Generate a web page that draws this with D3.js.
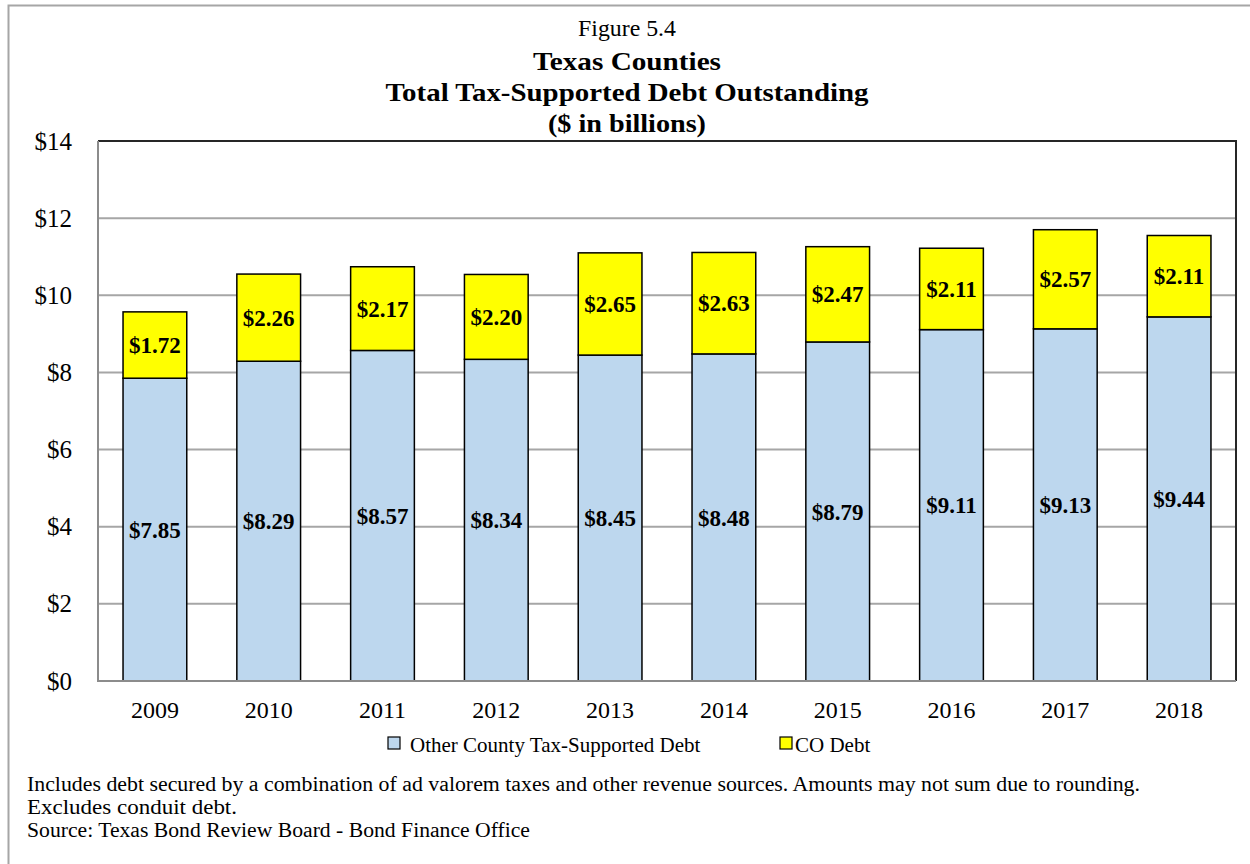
<!DOCTYPE html>
<html>
<head>
<meta charset="utf-8">
<script src="https://cdn.jsdelivr.net/npm/d3@7"></script>
<style>
  html, body { margin: 0; padding: 0; background: #fff; }
  svg, svg text { font-family: "Liberation Serif", "DejaVu Serif", serif; }
  svg { display: block; }
</style>
</head>
<body>
<svg id="chart" width="1250" height="864"></svg>
<script>
// Fiscal years shown on the x axis
const years = ["2009", "2010", "2011", "2012", "2013", "2014", "2015", "2016", "2017", "2018"];
// Other county tax-supported debt ($ billions)
const otherDebt = [7.85, 8.29, 8.57, 8.34, 8.45, 8.48, 8.79, 9.11, 9.13, 9.44];
// Certificates of obligation debt ($ billions)
const coDebt = [1.72, 2.26, 2.17, 2.20, 2.65, 2.63, 2.47, 2.11, 2.57, 2.11];
// Y axis ticks
const yTicks = [0, 2, 4, 6, 8, 10, 12, 14];
const seriesNames = ["Other County Tax-Supported Debt", "CO Debt"];
const seriesColors = ["#BDD7EE", "#FFFF00"];
const titleLines = ["Figure 5.4", "Texas Counties", "Total Tax-Supported Debt Outstanding", "($ in billions)"];
const notes = [
  "Includes debt secured by a combination of ad valorem taxes and other revenue sources. Amounts may not sum due to rounding.",
  "Excludes conduit debt.",
  "Source: Texas Bond Review Board - Bond Finance Office"
];

const svg = d3.select("#chart");
const plot = { left: 98, top: 141, right: 1236, bottom: 681 };

// fit a text element to a target width by stretching its glyphs
function fitWidth(sel, widths) {
  sel.each(function (d, i) {
    const w = typeof widths === "function" ? widths(d, i) : widths[i];
    if (w) d3.select(this).attr("textLength", w).attr("lengthAdjust", "spacingAndGlyphs");
  });
}

// outer frame (left and top edges)
svg.append("path")
  .attr("d", "M8.5,864 V5.5 H1250")
  .attr("fill", "none").attr("stroke", "#a6a6a6").attr("stroke-width", 2);

const x = d3.scaleBand().domain(years)
  .range([plot.left, plot.right])
  .paddingInner(0.44).paddingOuter(0.22);
const y = d3.scaleLinear().domain([0, 14]).range([plot.bottom, plot.top]);

// gridlines
svg.append("g").selectAll("line").data(yTicks.filter(d => d > 0 && d < 14)).join("line")
  .attr("x1", plot.left).attr("x2", plot.right)
  .attr("y1", d => y(d)).attr("y2", d => y(d))
  .attr("stroke", "#a6a6a6").attr("stroke-width", 2);

// plot frame: top and right dark
svg.append("path")
  .attr("d", `M${plot.left},${plot.top} H${plot.right} V${plot.bottom}`)
  .attr("fill", "none").attr("stroke", "#262626").attr("stroke-width", 2);

// stacked data
const stackData = years.map((yr, i) => ({ year: yr, other: otherDebt[i], co: coDebt[i] }));
const stack = d3.stack().keys(["other", "co"])(stackData);

const layers = svg.append("g").selectAll("g").data(stack).join("g")
  .attr("fill", (d, i) => seriesColors[i]);
layers.selectAll("rect").data(d => d).join("rect")
  .attr("x", d => x(d.data.year))
  .attr("width", x.bandwidth())
  .attr("y", d => y(d[1]))
  .attr("height", d => y(d[0]) - y(d[1]))
  .attr("stroke", "#000").attr("stroke-width", 1.5);

// segment value labels
layers.selectAll("text").data(d => d).join("text")
  .attr("x", d => x(d.data.year) + x.bandwidth() / 2)
  .attr("y", d => (y(d[0]) + y(d[1])) / 2)
  .attr("dy", "0.35em")
  .attr("text-anchor", "middle")
  .attr("fill", "#000")
  .attr("font-weight", "bold")
  .attr("font-size", 23)
  .text(d => "$" + (d[1] - d[0]).toFixed(2));

// axis lines (gray, left and bottom)
svg.append("path")
  .attr("d", `M${plot.left},${plot.top} V${plot.bottom} H${plot.right}`)
  .attr("fill", "none").attr("stroke", "#8c8c8c").attr("stroke-width", 2);

// y axis labels
const yAxis = d3.axisLeft(y).tickValues(yTicks).tickSize(0).tickPadding(26)
  .tickFormat(d => "$" + d);
const gy = svg.append("g").attr("transform", `translate(${plot.left},0)`).call(yAxis)
  .attr("font-family", null).attr("font-size", null);
gy.select(".domain").remove();
gy.selectAll("text").attr("font-size", 25).attr("fill", "#000");

// x axis labels
const xAxis = d3.axisBottom(x).tickSize(0).tickPadding(20);
const gx = svg.append("g").attr("transform", `translate(0,${plot.bottom})`).call(xAxis)
  .attr("font-family", null).attr("font-size", null);
gx.select(".domain").remove();
gx.selectAll("text").attr("font-size", 24).attr("fill", "#000");

// titles
const titleY = [36, 70, 101, 132];
const titleW = [98, 188, 483, 158];
svg.append("g").selectAll("text").data(titleLines).join("text")
  .attr("x", 627).attr("y", (d, i) => titleY[i])
  .attr("text-anchor", "middle")
  .attr("font-size", (d, i) => i === 0 ? 23 : 26)
  .attr("font-weight", (d, i) => i === 0 ? "normal" : "bold")
  .text(d => d)
  .call(fitWidth, titleW);

// legend
const legendX = [388, 780];
const legendTextX = [410, 795];
const lg = svg.append("g").selectAll("g").data(seriesNames).join("g");
lg.append("rect")
  .attr("x", (d, i) => legendX[i]).attr("y", 737)
  .attr("width", 12).attr("height", 12)
  .attr("fill", (d, i) => seriesColors[i])
  .attr("stroke", "#000").attr("stroke-width", 1.2);
lg.append("text")
  .attr("x", (d, i) => legendTextX[i]).attr("y", 752)
  .attr("font-size", 21)
  .text(d => d);

// footnotes
svg.append("g").selectAll("text").data(notes).join("text")
  .attr("x", 27).attr("y", (d, i) => 791 + i * 23)
  .attr("font-size", 20)
  .text(d => d)
  .call(fitWidth, [1113, 210, 503]);
</script>
</body>
</html>
